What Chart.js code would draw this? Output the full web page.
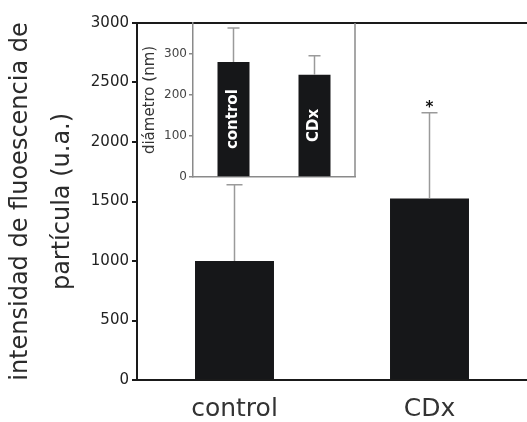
<!DOCTYPE html>
<html>
<head>
<meta charset="utf-8">
<script src="https://cdn.jsdelivr.net/npm/chart.js@4.4.0/dist/chart.umd.min.js"></script>
<style>
  body { margin: 0; background: #fff; }
  #wrap { position: relative; width: 527px; height: 422px; }
  #mainChart { position: absolute; left: 0; top: 0; }
  #insetChart { position: absolute; left: 130px; top: 0; }
</style>
</head>
<body>
<div id="wrap">
  <canvas id="mainChart" width="527" height="422"></canvas>
  <canvas id="insetChart" width="240" height="190"></canvas>
</div>
<script>
  // groups and measured values
  var groups = ["control", "CDx"];
  var intensity = [1000, 1525];
  var intensityErr = [640, 720];
  var intensityMarks = ["", "*"];
  var diameter = [280, 249];
  var diameterErr = [83, 46];

  var barColor = "#161719";
  var fontFam = "'DejaVu Sans', sans-serif";
  var plainNumber = function(v) { return String(v); };

  // draws the +SD whiskers (and optional significance mark) above each bar
  var errorBars = {
    id: "errorBars",
    afterDatasetsDraw: function(chart, args, opts) {
      var ctx = chart.ctx;
      var y = chart.scales.y;
      var values = chart.data.datasets[0].data;
      var meta = chart.getDatasetMeta(0);
      ctx.save();
      ctx.strokeStyle = opts.color;
      ctx.lineWidth = opts.width;
      meta.data.forEach(function(bar, i) {
        var top = y.getPixelForValue(values[i] + opts.errors[i]);
        ctx.beginPath();
        ctx.moveTo(bar.x, bar.y);
        ctx.lineTo(bar.x, top);
        ctx.moveTo(bar.x - opts.cap / 2, top);
        ctx.lineTo(bar.x + opts.cap / 2, top);
        ctx.stroke();
        if (opts.marks && opts.marks[i]) {
          ctx.fillStyle = "#111";
          ctx.font = "bold 15px " + fontFam;
          ctx.textAlign = "center";
          ctx.textBaseline = "bottom";
          ctx.fillText(opts.marks[i], bar.x, top + 3);
        }
      });
      ctx.restore();
    }
  };

  // extra frame lines that the axes don't give us
  var frame = {
    id: "frame",
    afterDraw: function(chart, args, opts) {
      var a = chart.chartArea, ctx = chart.ctx;
      ctx.save();
      ctx.strokeStyle = opts.color;
      ctx.lineWidth = opts.width;
      ctx.beginPath();
      if (opts.top) { ctx.moveTo(a.left, a.top); ctx.lineTo(a.right, a.top); }
      if (opts.right) { ctx.moveTo(a.right, a.top); ctx.lineTo(a.right, a.bottom); }
      ctx.stroke();
      ctx.restore();
    }
  };

  // white group names written up the inside of the inset bars
  var barNames = {
    id: "barNames",
    afterDatasetsDraw: function(chart) {
      var ctx = chart.ctx;
      var meta = chart.getDatasetMeta(0);
      ctx.save();
      ctx.fillStyle = "#fff";
      ctx.font = "bold 15px " + fontFam;
      ctx.textAlign = "center";
      ctx.textBaseline = "middle";
      meta.data.forEach(function(bar, i) {
        ctx.save();
        ctx.translate(bar.x, (bar.y + bar.base) / 2);
        ctx.rotate(-Math.PI / 2);
        ctx.fillText(chart.data.labels[i], 0, 0);
        ctx.restore();
      });
      ctx.restore();
    }
  };

  new Chart(document.getElementById("mainChart"), {
    type: "bar",
    data: {
      labels: groups,
      datasets: [{
        data: intensity,
        backgroundColor: barColor,
        barPercentage: 0.405,
        categoryPercentage: 1
      }]
    },
    plugins: [errorBars, frame],
    options: {
      responsive: false,
      animation: false,
      devicePixelRatio: 1,
      layout: { padding: { top: 23, right: 0, left: 0, bottom: 0 } },
      plugins: {
        legend: { display: false },
        tooltip: { enabled: false },
        errorBars: { errors: intensityErr, marks: intensityMarks, color: "#9a9a9a", width: 1.5, cap: 16 },
        frame: { top: true, color: "#1a1a1a", width: 2 }
      },
      scales: {
        x: {
          afterFit: function(s) { s.height = 42; },
          grid: { display: false },
          border: { display: true, color: "#1a1a1a", width: 2 },
          ticks: { color: "#333", font: { family: fontFam, size: 25 }, padding: 6 }
        },
        y: {
          min: 0,
          max: 3000,
          afterFit: function(s) { s.width = 137; },
          grid: { drawOnChartArea: false, drawTicks: true, tickLength: 5, color: "#1a1a1a", lineWidth: 2 },
          border: { display: true, color: "#1a1a1a", width: 2 },
          ticks: { stepSize: 500, color: "#222", font: { family: fontFam, size: 15 }, padding: 3, callback: plainNumber },
          title: {
            display: true,
            text: ["intensidad de fluoescencia de", "partícula (u.a.)"],
            color: "#2b2b2b",
            font: { family: fontFam, size: 24, lineHeight: 1.75 },
            padding: { top: 0, bottom: 0 }
          }
        }
      }
    }
  });

  new Chart(document.getElementById("insetChart"), {
    type: "bar",
    data: {
      labels: groups,
      datasets: [{
        data: diameter,
        backgroundColor: barColor,
        barPercentage: 0.395,
        categoryPercentage: 1
      }]
    },
    plugins: [errorBars, frame, barNames],
    options: {
      responsive: false,
      animation: false,
      devicePixelRatio: 1,
      layout: { padding: { top: 23, right: 15, left: 0, bottom: 0 } },
      plugins: {
        legend: { display: false },
        tooltip: { enabled: false },
        errorBars: { errors: diameterErr, color: "#9a9a9a", width: 1.5, cap: 12 },
        frame: { right: true, color: "#8a8a8a", width: 1.5 }
      },
      scales: {
        x: {
          afterFit: function(s) { s.height = 13; },
          grid: { display: false },
          border: { display: true, color: "#8a8a8a", width: 1.5 },
          ticks: { display: false }
        },
        y: {
          min: 0,
          max: 375,
          afterFit: function(s) { s.width = 63; },
          grid: { drawOnChartArea: false, drawTicks: true, tickLength: 4, color: "#8a8a8a", lineWidth: 1.5 },
          border: { display: true, color: "#8a8a8a", width: 1.5 },
          ticks: { stepSize: 100, includeBounds: false, color: "#444", font: { family: fontFam, size: 12 }, padding: 2, callback: plainNumber },
          title: {
            display: true,
            text: "diámetro (nm)",
            color: "#333",
            font: { family: fontFam, size: 15 },
            padding: { top: 11, bottom: 0 }
          }
        }
      }
    }
  });
</script>
</body>
</html>
